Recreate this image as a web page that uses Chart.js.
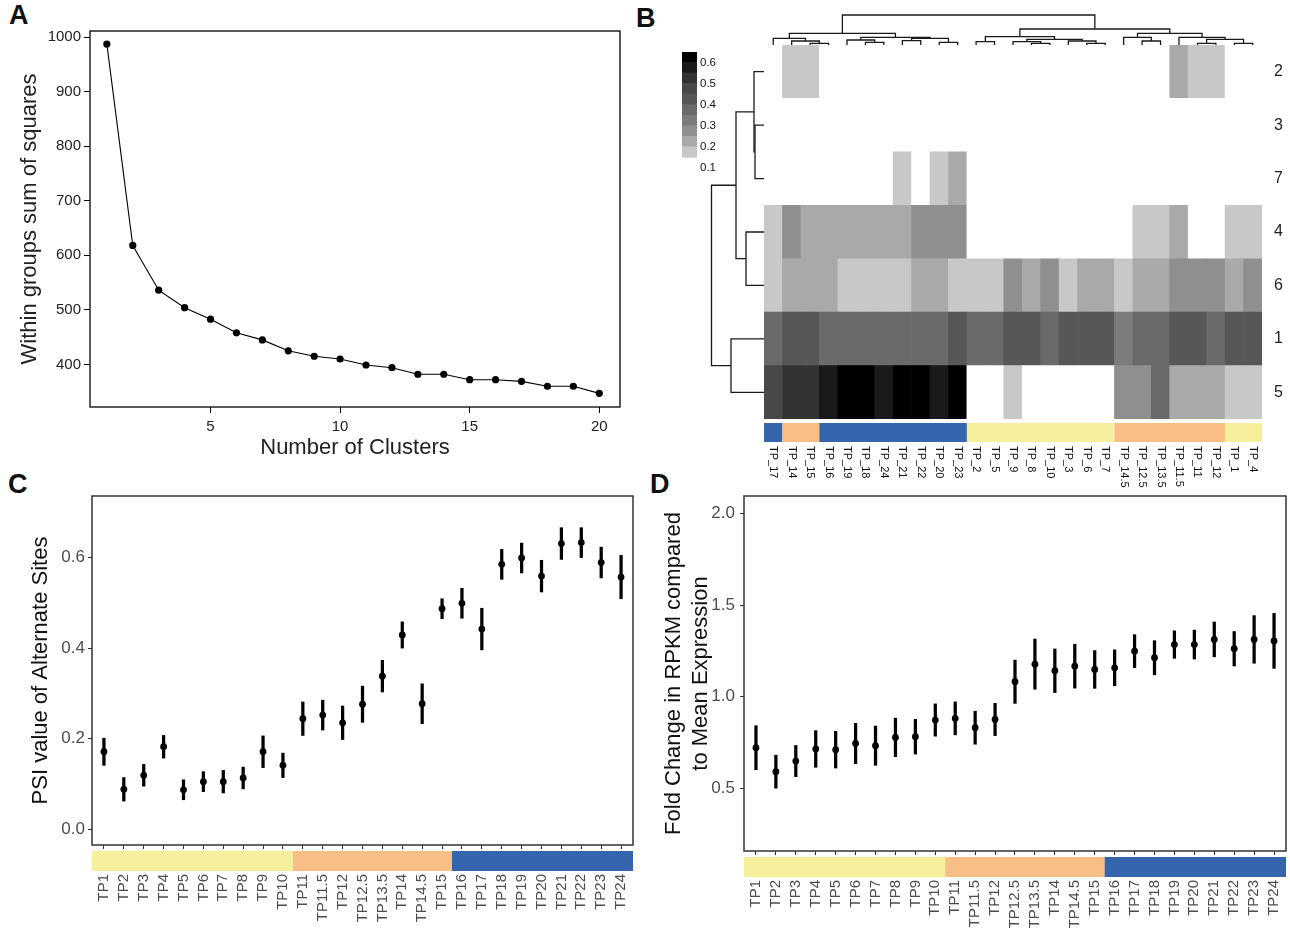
<!DOCTYPE html>
<html>
<head>
<meta charset="utf-8">
<script src="https://cdn.jsdelivr.net/npm/chart.js@4.4.1/dist/chart.umd.min.js"></script>
<style>
  html, body { margin: 0; padding: 0; background: #fff; }
  body { width: 1290px; height: 930px; position: relative; overflow: hidden;
         font-family: "Liberation Sans", Arial, Helvetica, sans-serif; }
  canvas { position: absolute; }
  .tag { position: absolute; font-weight: bold; font-size: 27px; line-height: 27px; color: #111; }
</style>
</head>
<body>
<div class="tag" style="left:9px;top:2px;">A</div>
<div class="tag" style="left:636px;top:5px;">B</div>
<div class="tag" style="left:8px;top:471px;">C</div>
<div class="tag" style="left:650px;top:471px;">D</div>

<canvas id="cA" width="640" height="470" style="left:0;top:0;"></canvas>
<canvas id="cHeat" width="650" height="490" style="left:640px;top:0;"></canvas>
<canvas id="cTopTree" width="650" height="50" style="left:640px;top:0;"></canvas>
<canvas id="cLeftTree" width="70" height="430" style="left:700px;top:0;"></canvas>
<canvas id="cLegend" width="50" height="135" style="left:675px;top:40px;"></canvas>
<canvas id="cC" width="650" height="460" style="left:0;top:470px;"></canvas>
<canvas id="cD" width="650" height="460" style="left:640px;top:470px;"></canvas>

<script>
// ================= DATA =================
// Panel A: elbow plot
const clusterK = [1,2,3,4,5,6,7,8,9,10,11,12,13,14,15,16,17,18,19,20];
const withinSS = [987,618,536,504,483,458,445,425,415,410,399,394,382,382,372,372,369,360,360,347];

// Panel B: heatmap (columns in dendrogram order, rows top to bottom)
const heatColumns = ['TP_17','TP_14','TP_15','TP_16','TP_19','TP_18','TP_24','TP_21','TP_22','TP_20','TP_23',
                     'TP_2','TP_5','TP_9','TP_8','TP_10','TP_3','TP_6','TP_7',
                     'TP_14.5','TP_12.5','TP_13.5','TP_11.5','TP_11','TP_12','TP_1','TP_4'];
const heatColumnStage = ['late','mid','mid','late','late','late','late','late','late','late','late',
                         'early','early','early','early','early','early','early','early',
                         'mid','mid','mid','mid','mid','mid','early','early'];
const heatRows = ['2','3','7','4','6','1','5'];
const heatRow2 = [0,0.17,0.17,0,0,0,0,0,0,0,0, 0,0,0,0,0,0,0,0, 0,0,0,0.22,0.17,0.17,0,0];
const heatRow3 = [0,0,0,0,0,0,0,0,0,0,0, 0,0,0,0,0,0,0,0, 0,0,0,0,0,0,0,0];
const heatRow7 = [0,0,0,0,0,0,0,0.17,0,0.17,0.22, 0,0,0,0,0,0,0,0, 0,0,0,0,0,0,0,0];
const heatRow4 = [0.17,0.27,0.22,0.22,0.22,0.22,0.22,0.22,0.27,0.27,0.27, 0,0,0,0,0,0,0,0, 0,0.17,0.17,0.22,0,0,0.17,0.17];
const heatRow6 = [0.17,0.22,0.22,0.22,0.17,0.17,0.17,0.17,0.22,0.22,0.17, 0.17,0.17,0.27,0.22,0.27,0.17,0.22,0.22, 0.17,0.22,0.22,0.27,0.27,0.27,0.22,0.27];
const heatRow1 = [0.37,0.42,0.42,0.37,0.37,0.37,0.37,0.37,0.37,0.37,0.42, 0.37,0.37,0.42,0.42,0.37,0.42,0.42,0.42, 0.32,0.37,0.37,0.42,0.42,0.37,0.42,0.42];
const heatRow5 = [0.47,0.52,0.52,0.57,0.62,0.62,0.57,0.62,0.62,0.57,0.62, 0,0,0.17,0,0,0,0,0, 0.27,0.27,0.37,0.22,0.22,0.22,0.17,0.17];

// colour key
const legendBreaks = [0.15,0.20,0.25,0.30,0.35,0.40,0.45,0.50,0.55,0.60,0.65];
const legendColors = ['#c8c8c8','#a9a9a9','#8f8f8f','#7c7c7c','#6a6a6a','#575757','#484848','#333333','#1a1a1a','#000000'];
const legendTicks = [0.1,0.2,0.3,0.4,0.5,0.6];

// dendrograms: [left, right, height]; negative = leaf (1-based), positive = earlier merge
const colMerges = [[-3,-4,5],[-2,1,12],[-1,2,20],[-6,-7,8],[-5,4,15],[-8,-9,13],[-10,-11,8],[6,7,20],[5,8,23],[3,9,35],
                   [-12,-13,10],[-15,-16,5],[-14,12,10],[-18,-19,5],[-17,14,12],[13,15,17],[11,16,25],
                   [-21,-22,12],[-20,18,23],[-24,-25,5],[-26,-27,5],[20,21,17],[-23,22,23],[19,23,35],[17,24,48],[10,25,90]];
const rowMerges = [[-2,-3,9],[-1,1,10],[-4,-5,18],[2,3,28],[-6,-7,33],[4,5,52.5]];

// Panels C and D
const timepoints = ['TP1','TP2','TP3','TP4','TP5','TP6','TP7','TP8','TP9','TP10',
                    'TP11','TP11.5','TP12','TP12.5','TP13.5','TP14','TP14.5','TP15',
                    'TP16','TP17','TP18','TP19','TP20','TP21','TP22','TP23','TP24'];
const timepointStage = ['early','early','early','early','early','early','early','early','early','early',
                        'mid','mid','mid','mid','mid','mid','mid','mid',
                        'late','late','late','late','late','late','late','late','late'];
const psiMean = [0.171,0.088,0.119,0.182,0.087,0.105,0.105,0.113,0.171,0.141,0.244,0.252,0.235,0.276,0.338,0.429,0.277,0.487,0.499,0.442,0.585,0.599,0.559,0.631,0.633,0.589,0.557];
const psiErr  = [0.030,0.026,0.024,0.025,0.022,0.022,0.025,0.024,0.035,0.027,0.037,0.033,0.037,0.040,0.035,0.029,0.044,0.022,0.033,0.046,0.033,0.033,0.035,0.035,0.033,0.034,0.048];
const fcMean  = [0.722,0.591,0.649,0.715,0.711,0.745,0.733,0.778,0.782,0.873,0.882,0.831,0.876,1.082,1.178,1.142,1.167,1.149,1.158,1.249,1.213,1.285,1.285,1.313,1.262,1.313,1.305];
const fcErr   = [0.120,0.090,0.085,0.100,0.100,0.110,0.107,0.105,0.095,0.088,0.090,0.090,0.088,0.118,0.137,0.119,0.120,0.103,0.098,0.090,0.093,0.075,0.079,0.095,0.094,0.130,0.150];

const stageColors = { early: '#f6ef9b', mid: '#f8be86', late: '#3566ad' };

// ================= HELPERS =================
Chart.defaults.font.family = '"Liberation Sans", Arial, Helvetica, sans-serif';
Chart.defaults.color = '#222';

const heatValues = [heatRow2, heatRow3, heatRow7, heatRow4, heatRow6, heatRow1, heatRow5];

function grayFor(v) {
  if (v < legendBreaks[0]) return '#ffffff';
  for (let k = 0; k < legendColors.length; k++) if (v < legendBreaks[k + 1]) return legendColors[k];
  return legendColors[legendColors.length - 1];
}

function dendroLinks(merges) {
  const pos = [], hgt = [], links = [];
  const node = id => id < 0 ? { p: -id - 1 + 0.5, h: 0 } : { p: pos[id - 1], h: hgt[id - 1] };
  merges.forEach(([a, b, h], k) => {
    const A = node(a), B = node(b);
    links.push([{ p: A.p, h: A.h }, { p: A.p, h: h }, { p: B.p, h: h }, { p: B.p, h: B.h }]);
    pos[k] = (A.p + B.p) / 2; hgt[k] = h;
  });
  return links;
}

const frameBox = {
  id: 'frameBox',
  afterDatasetsDraw(chart, args, o) {
    const { ctx, chartArea: a } = chart;
    ctx.save(); ctx.strokeStyle = o.color; ctx.lineWidth = o.width;
    ctx.strokeRect(a.left, a.top, a.right - a.left, a.bottom - a.top);
    ctx.restore();
  }
};

const stageBar = {
  id: 'stageBar',
  afterDraw(chart, args, o) {
    const xs = chart.scales.x, a = chart.chartArea, ctx = chart.ctx;
    const st = o.stages, n = st.length;
    ctx.save();
    let i = 0;
    while (i < n) {
      let j = i;
      while (j + 1 < n && st[j + 1] === st[i]) j++;
      const x0 = i === 0 ? a.left : xs.getPixelForValue(i - 0.5);
      const x1 = j === n - 1 ? a.right : xs.getPixelForValue(j + 0.5);
      ctx.fillStyle = stageColors[st[i]];
      ctx.fillRect(x0, a.bottom + o.gap, x1 - x0, o.height);
      i = j + 1;
    }
    ctx.restore();
  }
};

const colLabels = {
  id: 'colLabels',
  afterDraw(chart, args, o) {
    const xs = chart.scales.x, a = chart.chartArea, ctx = chart.ctx;
    ctx.save();
    ctx.fillStyle = '#111';
    ctx.font = '11px "Liberation Sans", Arial, sans-serif';
    ctx.textAlign = 'left'; ctx.textBaseline = 'middle';
    o.labels.forEach((lab, i) => {
      ctx.save();
      ctx.translate(xs.getPixelForValue(i), a.bottom + o.offset);
      ctx.rotate(Math.PI / 2);
      ctx.fillText(lab, 0, 0);
      ctx.restore();
    });
    ctx.restore();
  }
};

const baseOpts = { responsive: false, animation: false, devicePixelRatio: 1 };
const noPlugins = { legend: { display: false }, tooltip: { enabled: false } };

// ================= PANEL A =================
new Chart(document.getElementById('cA'), {
  type: 'scatter',
  data: { datasets: [{
    data: clusterK.map((k, i) => ({ x: k, y: withinSS[i] })),
    showLine: true, borderColor: '#000', borderWidth: 1.1,
    pointRadius: 3.6, pointBackgroundColor: '#000', pointBorderWidth: 0, clip: false
  }]},
  options: {
    ...baseOpts,
    layout: { padding: { left: 0, right: 20, top: 31, bottom: 0 } },
    plugins: { ...noPlugins, frameBox: { color: '#000', width: 1.3 } },
    scales: {
      x: { type: 'linear', min: 0.35, max: 20.8,
        grid: { drawOnChartArea: false, tickLength: 6, color: '#000' }, border: { display: false },
        ticks: { stepSize: 5, includeBounds: false, maxTicksLimit: 100, padding: 5, color: '#222', font: { size: 15 },
                 callback: v => String(v) },
        title: { display: true, text: 'Number of Clusters', color: '#222', font: { size: 22 }, padding: { top: 0, bottom: 9 } },
        afterFit: s => { s.height = 63; s.paddingLeft = 0; s.paddingRight = 0; } },
      y: { type: 'linear', min: 322, max: 1011,
        grid: { drawOnChartArea: false, tickLength: 6, color: '#000' }, border: { display: false },
        ticks: { stepSize: 100, includeBounds: false, maxTicksLimit: 100, padding: 3, color: '#222', font: { size: 15 },
                 callback: v => String(v) },
        title: { display: true, text: 'Within groups sum of squares', color: '#222', font: { size: 22 }, padding: { top: 17, bottom: 0 } },
        afterFit: s => { s.width = 90; s.paddingTop = 0; s.paddingBottom = 0; } }
    }
  },
  plugins: [frameBox]
});

// ================= PANEL B: heatmap =================
const heatDatasets = [];
for (let r = heatRows.length - 1; r >= 0; r--) {
  heatDatasets.push({
    data: heatColumns.map(() => 1),
    backgroundColor: heatValues[r].map(grayFor),
    borderWidth: 0, barPercentage: 1, categoryPercentage: 1, stack: 'cells'
  });
}
new Chart(document.getElementById('cHeat'), {
  type: 'bar',
  data: { labels: heatColumns, datasets: heatDatasets },
  options: {
    ...baseOpts,
    layout: { padding: { left: 124, right: 0, top: 45, bottom: 71 } },
    plugins: { ...noPlugins,
      stageBar: { stages: heatColumnStage, gap: 4, height: 19 },
      colLabels: { labels: heatColumns, offset: 27 } },
    scales: {
      x: { type: 'category', stacked: true, display: false },
      y: { type: 'linear', stacked: true, min: 0, max: 7, display: false },
      yr: { type: 'category', position: 'right', labels: heatRows, offset: true,
        grid: { display: false, drawTicks: false }, border: { display: false },
        ticks: { padding: 12, color: '#222', font: { size: 16 } },
        afterFit: s => { s.width = 28; s.paddingTop = 0; s.paddingBottom = 0; } }
    }
  },
  plugins: [stageBar, colLabels]
});

// top (column) dendrogram
new Chart(document.getElementById('cTopTree'), {
  type: 'scatter',
  data: { datasets: dendroLinks(colMerges).map(seg => ({
    data: seg.map(q => ({ x: q.p, y: q.h })), showLine: true, borderColor: '#1a1a1a',
    borderWidth: 1.3, pointRadius: 0, clip: false })) },
  options: {
    ...baseOpts,
    layout: { padding: { left: 124, right: 28, top: 15, bottom: 5 } },
    plugins: noPlugins,
    scales: { x: { type: 'linear', min: 0, max: 27, display: false },
              y: { type: 'linear', min: 0, max: 90, display: false } }
  }
});

// left (row) dendrogram
new Chart(document.getElementById('cLeftTree'), {
  type: 'scatter',
  data: { datasets: dendroLinks(rowMerges).map(seg => ({
    data: seg.map(q => ({ x: q.h, y: q.p })), showLine: true, borderColor: '#1a1a1a',
    borderWidth: 1.3, pointRadius: 0, clip: false })) },
  options: {
    ...baseOpts,
    layout: { padding: { left: 11, right: 6, top: 45, bottom: 11 } },
    plugins: noPlugins,
    scales: { x: { type: 'linear', min: 0, max: 53, reverse: true, display: false },
              y: { type: 'linear', min: 0, max: 7, reverse: true, display: false } }
  }
});

// colour key
new Chart(document.getElementById('cLegend'), {
  type: 'bar',
  data: { labels: [''], datasets: legendColors.map((c, k) => ({
    data: [[legendBreaks[k], legendBreaks[k + 1]]], backgroundColor: c, borderWidth: 0,
    barPercentage: 1, categoryPercentage: 1, grouped: false })) },
  options: {
    ...baseOpts,
    layout: { padding: { left: 7, right: 0, top: 12, bottom: 4 } },
    plugins: noPlugins,
    scales: {
      x: { display: false },
      y: { type: 'linear', position: 'right', min: 0.085, max: 0.65, beginAtZero: false,
        grid: { display: false, drawTicks: false }, border: { display: false },
        afterBuildTicks: s => { s.ticks = legendTicks.map(v => ({ value: v })); },
        ticks: { padding: 3, color: '#111', font: { size: 11.5 }, callback: v => Number(v).toFixed(1) },
        afterFit: s => { s.width = 28; s.paddingTop = 0; s.paddingBottom = 0; } }
    }
  }
});

// ================= PANELS C & D =================
function timepointPanel(id, mean, err, cfg) {
  return new Chart(document.getElementById(id), {
    type: 'scatter',
    data: { datasets: [
      { type: 'scatter', data: mean.map((m, i) => ({ x: i, y: m })), pointRadius: 3.4,
        pointBackgroundColor: '#000', pointBorderWidth: 0, showLine: false },
      { type: 'bar', data: mean.map((m, i) => ({ x: i, y: [m - err[i], m + err[i]] })),
        backgroundColor: '#000', borderWidth: 0, barThickness: 2.6 }
    ]},
    options: {
      ...baseOpts,
      layout: { padding: cfg.padding },
      plugins: { ...noPlugins, frameBox: { color: '#333', width: 1.5 },
                 stageBar: { stages: timepointStage, gap: 6, height: 20 } },
      scales: {
        x: { type: 'linear', min: -0.6, max: 26.6, offset: false,
          grid: { offset: false, drawOnChartArea: false, tickLength: 4, color: '#333' }, border: { display: false },
          ticks: { stepSize: 1, includeBounds: false, maxTicksLimit: 100, autoSkip: false,
                   minRotation: 90, maxRotation: 90, padding: 25, color: '#4d4d4d', font: { size: 15 },
                   callback: v => Number.isInteger(v) ? timepoints[v] : '' },
          afterFit: s => { s.height = cfg.xHeight; s.paddingLeft = 0; s.paddingRight = 0; } },
        y: { type: 'linear', min: cfg.yMin, max: cfg.yMax, beginAtZero: false,
          grid: { drawOnChartArea: false, tickLength: 4, color: '#333' }, border: { display: false },
          ticks: { stepSize: cfg.yStep, includeBounds: false, maxTicksLimit: 100, padding: cfg.yPad,
                   color: '#4d4d4d', font: { size: 17 }, callback: v => Number(v).toFixed(1) },
          title: { display: true, text: cfg.title, color: '#111',
                   font: { size: 22, lineHeight: 1.23 }, padding: { top: cfg.titlePad, bottom: 0 } },
          afterFit: s => { s.width = cfg.yWidth; s.paddingTop = 0; s.paddingBottom = 0; } }
      }
    },
    plugins: [frameBox, stageBar]
  });
}

timepointPanel('cC', psiMean, psiErr, {
  padding: { left: 0, right: 17, top: 26, bottom: 0 }, xHeight: 85, yWidth: 92, yPad: 3,
  yMin: -0.035, yMax: 0.736, yStep: 0.2, title: 'PSI value of Alternate Sites', titlePad: 27.5
});
timepointPanel('cD', fcMean, fcErr, {
  padding: { left: 0, right: 2, top: 26, bottom: 0 }, xHeight: 79, yWidth: 104, yPad: 5,
  yMin: 0.158, yMax: 2.096, yStep: 0.5, title: ['Fold Change in RPKM compared', 'to Mean Expression'], titlePad: 20.5
});
</script>
</body>
</html>
